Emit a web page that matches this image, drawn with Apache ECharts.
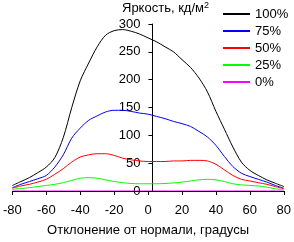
<!DOCTYPE html>
<html>
<head>
<meta charset="utf-8">
<script src="https://cdn.jsdelivr.net/npm/echarts@6/dist/echarts.min.js"></script>
<style>
html, body { margin: 0; padding: 0; background: #fff; }
#chart { width: 294px; height: 242px; }
</style>
</head>
<body>
<div id="chart"></div>
<script>
// углы, градусы
var angles = [-80,-75,-70,-65,-60,-55,-50,-45,-40,-35,-30,-25,-20,-15,-10,-5,0,5,10,15,20,25,30,35,40,45,50,55,60,65,70,75,80];

var s100 = [10,17,24,33,43,60,96,150,198,230,259,280,288,290,287,282,275,268,259,250,236,222,203,178,143,111,79,52,37,28,20,14,8];
var s75  = [6,12,17,22,28,43,65,95,113,127,135,142,145,145,143,140,138,134,130,125,121,116,107,97,82,62,44,32,26,21,16,10,5];
var s50  = [5,9,12,16,21,30,40,52,61,65,67,67,64,59,56,54,53,53,53,54,54,55,55,54,48,38,28,21,18,15,12,8,4];
var s25  = [3,4.5,6,8,10,12,15,19,23,24,23,20,17,15,13.5,13,13,13,13.5,14.5,16,18,20,21,20,17,13,11,10,9,7,4,2];
var s0   = [0,0,0,0,0,0,0,0,0,0,0,0,0,0,0,0,0,0,0,0,0,0,0,0,0,0,0,0,0,0,0,0,0];

var names = ['100%','75%','50%','25%','0%'];
var colors = ['#000000','#0000ff','#ff0000','#00ff00','#ff00ff'];
var allData = [s100, s75, s50, s25, s0];

function pairs(arr) {
    var out = [];
    for (var i = 0; i < angles.length; i++) {
        out.push([angles[i], arr[i]]);
    }
    return out;
}

var font = 'Liberation Sans, Arial, sans-serif';

var chart = echarts.init(document.getElementById('chart'));

var series = [];
var legendData = [];
for (var i = 0; i < names.length; i++) {
    series.push({
        name: names[i],
        type: 'line',
        data: pairs(allData[i]),
        smooth: 0.3,
        symbol: 'none',
        z: i == 4 ? 1 : 2,
        lineStyle: { width: 1, color: colors[i] },
        itemStyle: { color: colors[i] }
    });
    legendData.push({
        name: names[i],
        icon: 'rect',
        itemStyle: { color: colors[i], borderWidth: 0 }
    });
}

var option = {
    animation: false,
    backgroundColor: '#fff',
    textStyle: { fontFamily: font },
    title: {
        text: 'Яркость, кд/м{sup|2}',
        left: 122,
        top: 1,
        padding: 0,
        textStyle: {
            fontFamily: font,
            fontSize: 13,
            fontWeight: 'normal',
            color: '#000',
            rich: {
                sup: { fontSize: 9, verticalAlign: 'top', padding: [0, 0, 6, 0], color: '#000', fontFamily: font }
            }
        }
    },
    legend: {
        orient: 'vertical',
        left: 223,
        top: 6,
        padding: 0,
        icon: 'rect',
        itemWidth: 27,
        itemHeight: 2,
        itemGap: 1,
        itemStyle: { borderWidth: 0 },
        data: legendData,
        textStyle: { fontFamily: font, fontSize: 13, lineHeight: 16, color: '#000' }
    },
    grid: { left: 9, right: 5, top: 24, bottom: 40 },
    xAxis: {
        type: 'value',
        min: -80,
        max: 80,
        interval: 20,
        z: 5,
        name: 'Отклонение от нормали, градусы',
        nameLocation: 'middle',
        nameGap: 33,
        nameTextStyle: { fontFamily: font, fontSize: 13, color: '#000' },
        axisLine: { onZero: false, lineStyle: { color: '#000', width: 1 } },
        axisTick: { show: true, length: 4, lineStyle: { color: '#000' } },
        axisLabel: { fontFamily: font, fontSize: 13, color: '#000', margin: 13 },
        splitLine: { show: false }
    },
    yAxis: {
        type: 'value',
        min: 0,
        max: 300,
        interval: 50,
        position: 'left',
        offset: -140,
        axisLine: { show: true, onZero: false, lineStyle: { color: '#000', width: 1 } },
        axisTick: { show: true, length: 4, lineStyle: { color: '#000' } },
        axisLabel: { fontFamily: font, fontSize: 13, color: '#000', margin: 12 },
        splitLine: { show: false }
    },
    series: series
};

chart.setOption(option);
</script>
</body>
</html>
